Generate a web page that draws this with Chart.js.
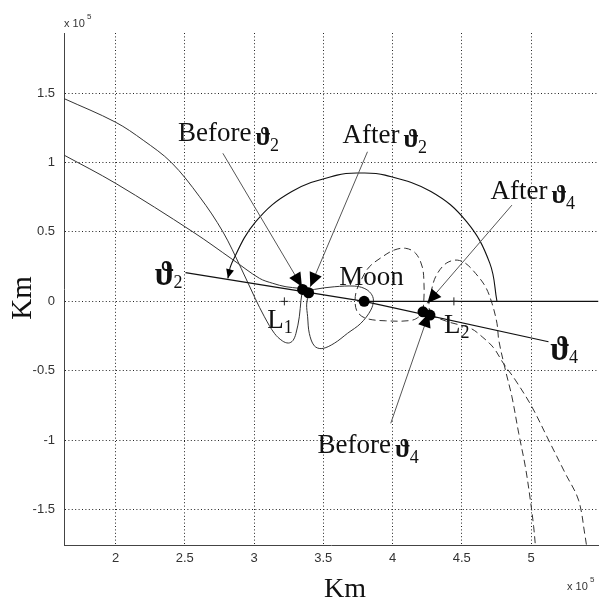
<!DOCTYPE html>
<html>
<head>
<meta charset="utf-8">
<title>Transfer trajectories through L1 and L2</title>
<script src="https://cdn.jsdelivr.net/npm/chart.js@4.4.1/dist/chart.umd.min.js"></script>
<style>
  html, body { margin: 0; padding: 0; background: #fff; }
  #trajectoryChart { display: block; }
</style>
</head>
<body>
<canvas id="trajectoryChart" width="604" height="601"></canvas>
<script>
// All positions are in units of 1e5 km, Earth-Moon rotating frame.

// Axis ticks and limits
const X_TICKS = [2, 2.5, 3, 3.5, 4, 4.5, 5];
const Y_TICKS = [-1.5, -1, -0.5, 0, 0.5, 1, 1.5];
const X_MIN = 1.628, X_MAX = 5.487;
const Y_MIN = -1.754, Y_MAX = 1.932;

// Upper approach arc, with the loop around L1
const upperX = [1.628, 2.000, 2.200, 2.403, 2.607, 2.775, 2.907, 3.008, 3.075, 3.147, 3.205, 3.248, 3.280, 3.303, 3.327, 3.339, 3.351];
const upperY = [1.460, 1.290, 1.160, 1.000, 0.753, 0.501, 0.238, 0.022, -0.111, -0.230, -0.285, -0.300, -0.283, -0.230, -0.111, 0.009, 0.086];

// Lower approach arc
const lowerX = [1.628, 2.000, 2.559, 2.847, 3.039, 3.135, 3.231, 3.327, 3.351];
const lowerY = [1.053, 0.850, 0.500, 0.300, 0.166, 0.130, 0.105, 0.094, 0.086];

// Solid loop around the Moon after the first burn
const moonLoopX = [3.394, 3.380, 3.387, 3.399, 3.435, 3.490, 3.579, 3.675, 3.771, 3.843, 3.862, 3.843, 3.795, 3.723, 3.579, 3.435, 3.394];
const moonLoopY = [0.062, -0.020, -0.111, -0.230, -0.320, -0.340, -0.302, -0.230, -0.158, -0.063, 0.009, 0.058, 0.094, 0.110, 0.105, 0.086, 0.070];

// Dashed loop between the Moon and L2
const returnLoopX = [4.220, 4.227, 4.227, 4.215, 4.167, 4.095, 4.011, 3.924, 3.831, 3.773, 3.737, 3.730, 3.747, 3.807, 3.951, 4.143, 4.220];
const returnLoopY = [-0.075, 0.031, 0.130, 0.247, 0.346, 0.382, 0.369, 0.319, 0.247, 0.153, 0.067, -0.012, -0.077, -0.122, -0.140, -0.135, -0.091];

// Dashed escape legs beyond L2
const escapeSteepX = [4.270, 4.263, 4.275, 4.287, 4.311, 4.359, 4.407, 4.467, 4.527, 4.599, 4.671, 4.718, 4.754, 4.767, 4.815, 4.862, 4.911, 4.959, 4.995, 5.019, 5.031];
const escapeSteepY = [-0.099, -0.014, 0.033, 0.105, 0.177, 0.249, 0.285, 0.297, 0.274, 0.202, 0.105, -0.014, -0.158, -0.279, -0.495, -0.687, -0.950, -1.191, -1.431, -1.623, -1.754];
const escapeWideX = [4.270, 4.407, 4.563, 4.647, 4.731, 4.800, 4.887, 5.006, 5.127, 5.247, 5.343, 5.391, 5.400];
const escapeWideY = [-0.099, -0.149, -0.194, -0.255, -0.336, -0.446, -0.567, -0.759, -0.999, -1.238, -1.431, -1.695, -1.754];

// Burn direction lines through the Moon, and the reference axis
const theta2X = [2.505, 3.795];
const theta2Y = [0.207, 0.000];
const theta4X = [3.795, 5.126];
const theta4Y = [0.000, -0.291];
const baseX = [3.795, 5.487];
const baseY = [0, 0];

// Angle sweep from the reference axis round to the theta2 line
const sweepX = [4.754, 4.702, 4.536, 4.277, 3.946, 3.766, 3.600, 3.273, 3.011, 2.839, 2.811];
const sweepY = [0.000, 0.275, 0.572, 0.791, 0.909, 0.924, 0.909, 0.791, 0.572, 0.275, 0.166];

// Pointer lines (tail, tip)
const before2X = [2.775, 3.346], before2Y = [1.066, 0.105];
const after2X = [3.819, 3.406], after2Y = [1.077, 0.105];
const after4X = [4.862, 4.251], after4Y = [0.693, -0.014];
const before4X = [3.987, 4.263], before4Y = [-0.878, -0.084];

// Burn points and the Moon
const dotX = [3.351, 3.394, 3.795, 4.220, 4.270];
const dotY = [0.086, 0.062, 0.000, -0.075, -0.099];

// Libration points L1, L2
const libX = [3.219, 4.443];
const libY = [0, 0];

// Text notes: word, symbol, subscript, anchor (left, baseline)
const notes = [
    { text: 'Before', symbol: '\u03D1', sub: '2', x: 2.451, y: 1.154 },
    { text: 'After', symbol: '\u03D1', sub: '2', x: 3.639, y: 1.138 },
    { text: 'After', symbol: '\u03D1', sub: '4', x: 4.707, y: 0.737 },
    { text: 'Before', symbol: '\u03D1', sub: '4', x: 3.459, y: -1.094 },
    { text: 'Moon', x: 3.615, y: 0.117 },
    { symbol: '\u03D1', sub: '2', x: 2.283, y: 0.117, big: true },
    { symbol: '\u03D1', sub: '4', x: 5.139, y: -0.423, big: true },
    { text: 'L', sub: '1', x: 3.096, y: -0.192 },
    { text: 'L', sub: '2', x: 4.371, y: -0.228 }
];

const SERIF = "'Liberation Serif', 'Times New Roman', serif";
const SANS = "'Liberation Sans', Arial, sans-serif";

/**
 * Zip two coordinate arrays into Chart.js points
 */
function pairs(xs, ys) {
    return xs.map((x, i) => ({ x: x, y: ys[i] }));
}

function curve(xs, ys, extra) {
    return Object.assign({
        data: pairs(xs, ys),
        showLine: true,
        pointRadius: 0,
        borderColor: '#333',
        borderWidth: 1,
        tension: 0.35,
        fill: false
    }, extra || {});
}

/**
 * Filled arrow head at the end of a dataset's line
 */
function drawArrowHead(ctx, fromX, fromY, toX, toY, len, halfWidth) {
    const ang = Math.atan2(toY - fromY, toX - fromX);
    ctx.save();
    ctx.translate(toX, toY);
    ctx.rotate(ang);
    ctx.beginPath();
    ctx.moveTo(0, 0);
    ctx.lineTo(-len, -halfWidth);
    ctx.lineTo(-len, halfWidth);
    ctx.closePath();
    ctx.fillStyle = '#000';
    ctx.fill();
    ctx.restore();
}

function drawNote(ctx, note, px, py) {
    let x = px;
    ctx.fillStyle = '#111';
    ctx.textAlign = 'left';
    ctx.textBaseline = 'alphabetic';
    if (note.text) {
        ctx.font = '27px ' + SERIF;
        ctx.fillText(note.text, x, py);
        x += ctx.measureText(note.text).width + (note.symbol ? 4 : 0);
    }
    if (note.symbol) {
        ctx.font = 'bold ' + (note.big ? 33 : 26) + 'px ' + SERIF;
        const sy = note.big ? py : py + 4;
        ctx.fillText(note.symbol, x, sy);
        x += ctx.measureText(note.symbol).width - 1;
    }
    if (note.sub) {
        ctx.font = '18px ' + SERIF;
        const drop = note.text === 'L' ? 5 : (note.big ? 3 : 10);
        ctx.fillText(note.sub, x, py + drop);
    }
}

const annotationPlugin = {
    id: 'trajectoryNotes',
    afterDatasetsDraw(chart) {
        const ctx = chart.ctx;
        const xs = chart.scales.x;
        const ys = chart.scales.y;

        // arrow heads on pointer lines and the angle sweep
        chart.data.datasets.forEach((ds, i) => {
            if (!ds.arrowHead) return;
            const pts = chart.getDatasetMeta(i).data;
            const tip = pts[pts.length - 1];
            const prev = pts[pts.length - 2];
            drawArrowHead(ctx, prev.x, prev.y, tip.x, tip.y, ds.arrowHead[0], ds.arrowHead[1]);
        });

        notes.forEach(n => drawNote(ctx, n, xs.getPixelForValue(n.x), ys.getPixelForValue(n.y)));
    },
    afterDraw(chart) {
        const ctx = chart.ctx;
        const area = chart.chartArea;
        ctx.save();
        ctx.fillStyle = '#111';

        // axis titles
        ctx.font = '28px ' + SERIF;
        ctx.textAlign = 'center';
        ctx.textBaseline = 'alphabetic';
        ctx.fillText('Km', 345, 597);
        ctx.save();
        ctx.translate(31, 298);
        ctx.rotate(-Math.PI / 2);
        ctx.font = '29px ' + SERIF;
        ctx.fillText('Km', 0, 0);
        ctx.restore();

        // exponent markers
        ctx.fillStyle = '#333';
        ctx.textAlign = 'left';
        ctx.font = '11px ' + SANS;
        ctx.fillText('x 10', area.left, 27);
        ctx.fillText('x 10', 567, 590);
        ctx.font = '8px ' + SANS;
        ctx.fillText('5', area.left + 23, 19);
        ctx.fillText('5', 590, 582);
        ctx.restore();
    }
};

function axisOptions(ticks, min, max, fit) {
    return {
        type: 'linear',
        min: min,
        max: max,
        afterBuildTicks: scale => {
            scale.ticks = ticks.map(v => ({ value: v }));
        },
        afterFit: fit,
        ticks: {
            color: '#333',
            font: { family: SANS, size: 13 },
            callback: v => String(v)
        },
        grid: {
            color: '#222',
            lineWidth: 1,
            drawTicks: false
        },
        border: {
            display: true,
            color: '#444',
            width: 1,
            dash: [1, 2.4]
        }
    };
}

function initTrajectoryChart() {
    const ctx = document.getElementById('trajectoryChart');
    const dashed = { borderDash: [7, 4] };
    const pointer = { borderColor: '#555', tension: 0 };

    const xAxis = axisOptions(X_TICKS, X_MIN, X_MAX, s => { s.height = 56; });
    xAxis.ticks.padding = 6;
    const yAxis = axisOptions(Y_TICKS, Y_MIN, Y_MAX, s => { s.width = 64; });
    yAxis.ticks.padding = 9;

    new Chart(ctx, {
        type: 'scatter',
        data: {
            datasets: [
                {
                    data: pairs(dotX, dotY),
                    pointRadius: 5.5,
                    pointBackgroundColor: '#000',
                    pointBorderWidth: 0
                },
                {
                    data: pairs(libX, libY),
                    pointStyle: 'cross',
                    pointRadius: 4,
                    pointBorderColor: '#222',
                    pointBorderWidth: 1
                },
                curve(before2X, before2Y, Object.assign({ arrowHead: [14, 6.5] }, pointer)),
                curve(after2X, after2Y, Object.assign({ arrowHead: [14, 6.5] }, pointer)),
                curve(after4X, after4Y, Object.assign({ arrowHead: [14, 6.5] }, pointer)),
                curve(before4X, before4Y, Object.assign({ arrowHead: [14, 6.5] }, pointer)),
                curve(sweepX, sweepY, { borderColor: '#111', borderWidth: 1.1, tension: 0.4, arrowHead: [9, 4] }),
                curve(theta2X, theta2Y, { borderColor: '#111', borderWidth: 1.2, tension: 0 }),
                curve(theta4X, theta4Y, { borderColor: '#111', borderWidth: 1.2, tension: 0 }),
                curve(baseX, baseY, { borderColor: '#111', borderWidth: 1.2, tension: 0 }),
                curve(upperX, upperY),
                curve(lowerX, lowerY),
                curve(moonLoopX, moonLoopY),
                curve(returnLoopX, returnLoopY, dashed),
                curve(escapeSteepX, escapeSteepY, dashed),
                curve(escapeWideX, escapeWideY, dashed)
            ]
        },
        options: {
            responsive: false,
            devicePixelRatio: 1,
            animation: false,
            events: [],
            layout: {
                padding: { top: 33, right: 4, bottom: 0, left: 0 }
            },
            plugins: {
                legend: { display: false },
                tooltip: { enabled: false }
            },
            scales: {
                x: xAxis,
                y: yAxis
            }
        },
        plugins: [annotationPlugin]
    });
}

initTrajectoryChart();
</script>
</body>
</html>
